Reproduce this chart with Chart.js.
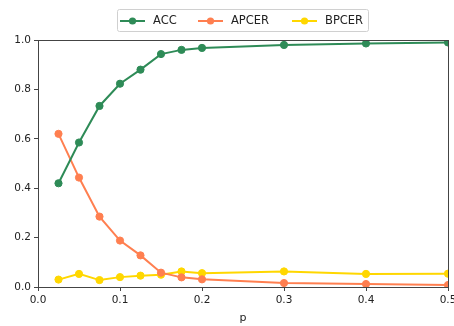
<!DOCTYPE html>
<html><head><meta charset="utf-8">
<script src="https://cdn.jsdelivr.net/npm/chart.js@4"></script>
<style>html,body{margin:0;padding:0;background:#fff}#w{width:454px;height:326px}</style>
</head><body><div id="w"><canvas id="c" width="454" height="326"></canvas></div>
<script>
const pValues = [0.025, 0.05, 0.075, 0.1, 0.125, 0.15, 0.175, 0.2, 0.3, 0.4, 0.5];
const accValues = [0.42, 0.585, 0.733, 0.823, 0.88, 0.943, 0.96, 0.968, 0.98, 0.986, 0.99];
const apcerValues = [0.62, 0.443, 0.285, 0.188, 0.128, 0.058, 0.039, 0.031, 0.016, 0.012, 0.008];
const bpcerValues = [0.03, 0.053, 0.028, 0.04, 0.046, 0.05, 0.063, 0.056, 0.063, 0.053, 0.054];
const seriesNames = ['ACC', 'APCER', 'BPCER'];
const seriesColors = ['#2e8b57', '#ff7f50', '#ffd700'];

function pts(vals){ return pValues.map((x,i)=>({x:x, y:vals[i]})); }
const allVals = [accValues, apcerValues, bpcerValues];
const FONT = '"DejaVu Sans", sans-serif';

const framePlugin = {
  id:'frame',
  afterDraw(chart){
    const {ctx, chartArea:a} = chart;
    ctx.save();
    ctx.strokeStyle = '#444'; ctx.lineWidth = 1;
    ctx.strokeRect(Math.round(a.left)+0.5, Math.round(a.top)+0.5, Math.round(a.right-a.left), Math.round(a.bottom-a.top));
    // legend
    const lx = 117, ly = 9, lw = 251, lh = 22;
    ctx.fillStyle = 'rgba(255,255,255,0.85)';
    ctx.strokeStyle = '#d0d0d0';
    ctx.beginPath();
    if (ctx.roundRect) ctx.roundRect(lx+0.5, ly+0.5, lw, lh, 2); else ctx.rect(lx+0.5, ly+0.5, lw, lh);
    ctx.fill(); ctx.stroke();
    const starts = [120, 198, 292];
    ctx.font = '11.5px ' + FONT;
    ctx.textBaseline = 'middle';
    seriesNames.forEach((n,i)=>{
      const x0 = starts[i], yc = ly + lh/2 + 1;
      ctx.strokeStyle = seriesColors[i]; ctx.lineWidth = 2;
      ctx.beginPath(); ctx.moveTo(x0, yc); ctx.lineTo(x0+25, yc); ctx.stroke();
      ctx.fillStyle = seriesColors[i];
      ctx.beginPath(); ctx.arc(x0+12.5, yc, 3.6, 0, Math.PI*2); ctx.fill();
      ctx.fillStyle = '#222';
      ctx.fillText(n, x0+33, yc);
    });
    ctx.restore();
  }
};

new Chart(document.getElementById('c'), {
  type:'line',
  data:{
    datasets: seriesNames.map((n,i)=>({
      label:n, data:pts(allVals[i]),
      borderColor:seriesColors[i], backgroundColor:seriesColors[i],
      pointBackgroundColor:seriesColors[i], pointBorderColor:seriesColors[i],
      borderWidth:2, pointRadius:3.6, pointBorderWidth:1, tension:0
    }))
  },
  options:{
    responsive:false, animation:false,
    layout:{padding:{top:40, right:6, bottom:0, left:0}},
    plugins:{legend:{display:false}, tooltip:{enabled:false}},
    scales:{
      x:{type:'linear', min:0, max:0.5,
        grid:{drawOnChartArea:false, drawTicks:true, tickLength:4, color:'#444'},
        border:{display:true, color:'#444'},
        ticks:{stepSize:0.1, color:'#222', font:{family:FONT, size:10.5}, padding:3, maxRotation:0,
          callback:v=>v.toFixed(1)},
        title:{display:true, text:'p', color:'#222', font:{family:FONT, size:11}, padding:{top:5,bottom:1}},
        afterFit(s){ s.height = 39; s.paddingRight = 0; s.paddingLeft = 0; }
      },
      y:{min:0, max:1,
        grid:{drawOnChartArea:false, drawTicks:true, tickLength:4, color:'#444'},
        border:{display:true, color:'#444'},
        ticks:{stepSize:0.2, color:'#222', font:{family:FONT, size:10.5}, padding:3,
          callback:v=>v.toFixed(1)},
        afterFit(s){ s.width = 38; s.paddingTop = 0; s.paddingBottom = 0; }
      }
    }
  },
  plugins:[framePlugin]
});
</script></body></html>
